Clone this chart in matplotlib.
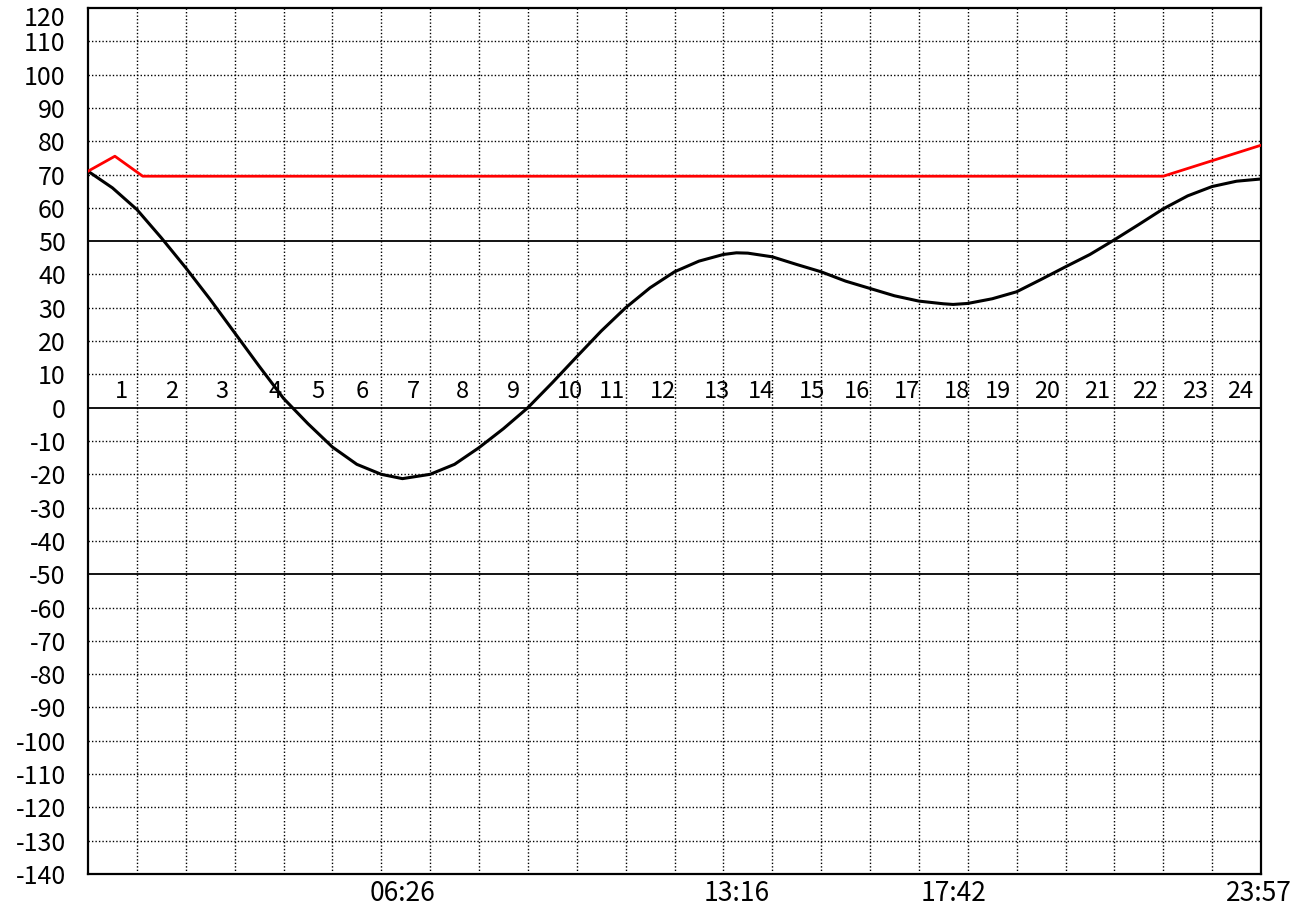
import numpy as np
import matplotlib.pyplot as plt
from matplotlib.transforms import offset_copy

plt.rcParams['font.family'] = ['Noto Sans CJK JP', 'DejaVu Sans']
plt.rcParams['axes.unicode_minus'] = False

# black curve, read every half hour plus the turning points
tideX = [0, 0.5, 1, 1.5, 2, 2.5, 3, 3.5, 4, 4.5, 5, 5.5, 6, 6.433, 7, 7.5, 8, 8.5, 9, 9.5,
         10, 10.5, 11, 11.5, 12, 12.5, 13, 13.267, 13.5, 14, 14.5, 15, 15.5, 16, 16.5, 17,
         17.5, 17.7, 18, 18.5, 19, 19.5, 20, 20.5, 21, 21.5, 22, 22.5, 23, 23.5, 23.95]
tideY = [71, 66, 59.5, 51, 42, 32.5, 22.5, 12.5, 2.8, -4.8, -11.8, -17, -20, -21.3, -20, -17, -12, -6.3, 0, 7.5,
         15.3, 23, 30, 36, 40.8, 44, 46, 46.5, 46.4, 45.3, 43, 40.8, 38, 35.8, 33.6, 32,
         31.2, 31, 31.3, 32.7, 34.8, 38.5, 42.3, 46, 50.4, 55, 59.7, 63.6, 66.4, 68, 68.6]

# red line
limX = [0, 0.55, 1.12, 22.0, 24.0]
limY = [71, 75.5, 69.5, 69.5, 78.8]

hourLabels = [str(i) for i in range(1, 25)]
hourLabelX = [0.68, 1.72, 2.74, 3.83, 4.71, 5.61, 6.65, 7.67, 8.70, 9.86, 10.72, 11.77,
              12.87, 13.77, 14.81, 15.73, 16.76, 17.78, 18.62, 19.62, 20.64, 21.63, 22.65, 23.57]

yTicks = list(range(-140, 121, 10))
timeTicks = [6.433, 13.267, 17.7, 23.95]
timeLabels = ['06:26', '13:16', '17:42', '23:57']

fig = plt.figure(figsize=(13.04, 9.11), dpi=100)
ax = fig.add_axes([88/1304, 1-874/911, (1261-88)/1304, (874-8)/911])

ax.set_xlim(0, 24)
ax.set_ylim(-140, 120)

dots = (0, (1, 1.5))
# dotted grid
for h in range(1, 24):
    ax.axvline(h, color='black', linestyle=dots, linewidth=1.0, zorder=1)
for v in yTicks[1:-1]:
    if v in (-50, 0, 50):
        ax.axhline(v, color='black', linewidth=1.3, zorder=2)
    else:
        ax.axhline(v, color='black', linestyle=dots, linewidth=1.0, zorder=1)

ax.plot(limX, limY, color='red', linewidth=2.0, zorder=4)
ax.plot(tideX, tideY, color='black', linewidth=2.2, zorder=3,
        solid_joinstyle='round')

for x, s in zip(hourLabelX, hourLabels):
    ax.text(x, 5, s, ha='center', va='center', fontsize=17, zorder=5)

ax.set_yticks(yTicks)
# top label sits a bit lower in the original, drawn by hand
ax.set_yticklabels([str(v) for v in yTicks[:-1]] + [''])
trans = offset_copy(ax.get_yaxis_transform(), fig=fig, x=-16, y=-8, units='points')
ax.text(0, yTicks[-1], str(yTicks[-1]), transform=trans, ha='right', va='center',
        fontsize=18)
ax.set_xticks(timeTicks)
ax.set_xticklabels(timeLabels)
ax.tick_params(axis='y', length=0, pad=16, labelsize=18)
ax.tick_params(axis='x', length=0, pad=4, labelsize=19)

for sp in ax.spines.values():
    sp.set_linewidth(1.6)

fig.savefig('out.png', dpi=100)
